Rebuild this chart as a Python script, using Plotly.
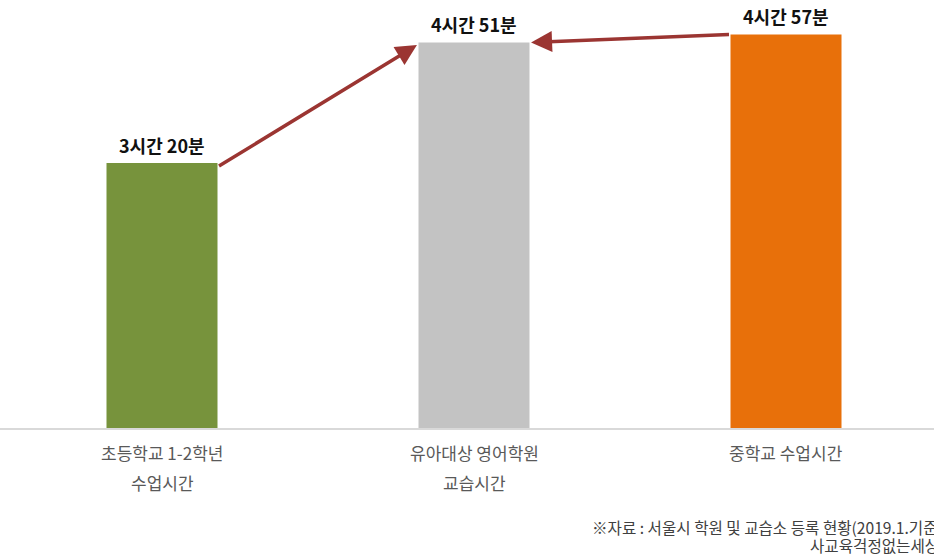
import plotly.graph_objects as go

line1 = ["초등학교 1-2학년", "유아대상 영어학원", "중학교 수업시간"]
line2 = ["수업시간", "교습시간", ""]
minutes = [200, 291, 297]
value_labels = ["3시간 20분", "4시간 51분", "4시간 57분"]
colors = ["#77933C", "#C3C3C3", "#E8700A"]
source_line1 = "※자료 : 서울시 학원 및 교습소 등록 현황(2019.1.기준)"
source_line2 = "사교육걱정없는세상"

FONT = "Noto Sans CJK KR"
W = 111 / 312  # bar width in category units

fig = go.Figure()
fig.add_trace(go.Bar(
    x=[0, 1, 2], y=minutes, width=W,
    marker=dict(color=colors, line=dict(width=0)),
    hoverinfo="skip",
))

ann = []
for i, (v, lab) in enumerate(zip(minutes, value_labels)):
    ann.append(dict(x=i, y=v, xref="x", yref="y", text=f"<b>{lab}</b>",
                    showarrow=False, yanchor="middle", yshift=18,
                    font=dict(family=FONT, size=18, color="#111111")))
for i, (a, b) in enumerate(zip(line1, line2)):
    ann.append(dict(x=i, y=0, xref="x", yref="paper", text=a, showarrow=False,
                    yanchor="middle", yshift=-24,
                    font=dict(family=FONT, size=17, color="#595959")))
    if b:
        ann.append(dict(x=i, y=0, xref="x", yref="paper", text=b, showarrow=False,
                        yanchor="middle", yshift=-54,
                        font=dict(family=FONT, size=17, color="#595959")))

arrow_col = "#9B3532"
# arrow 1: bar1 top-right -> bar2 top-left
ann.append(dict(x=1 - W / 2 - 0.005, y=minutes[1] - 2, xref="x", yref="y",
                ax=W / 2, ay=minutes[0] - 3, axref="x", ayref="y",
                showarrow=True, arrowhead=2, arrowsize=1.2, arrowwidth=3.5,
                arrowcolor=arrow_col, text=""))
# arrow 2: bar3 top-left -> bar2 top-right
ann.append(dict(x=1 + W / 2 + 0.005, y=minutes[1], xref="x", yref="y",
                ax=2 - W / 2, ay=minutes[2], axref="x", ayref="y",
                showarrow=True, arrowhead=2, arrowsize=1.2, arrowwidth=3.5,
                arrowcolor=arrow_col, text=""))

ann.append(dict(x=590 / 934, y=0, xref="paper", yref="paper",
                text=source_line1, yshift=-99,
                showarrow=False, xanchor="left", yanchor="middle",
                font=dict(family=FONT, size=15.6, color="#404040")))
ann.append(dict(x=808 / 934, y=0, xref="paper", yref="paper",
                text=source_line2, yshift=-117,
                showarrow=False, xanchor="left", yanchor="middle",
                font=dict(family=FONT, size=15.6, color="#404040")))

x0 = -162 / 312
fig.update_layout(
    width=934, height=555,
    margin=dict(l=0, r=0, t=0, b=127),
    paper_bgcolor="white", plot_bgcolor="white",
    showlegend=False,
    annotations=ann,
    xaxis=dict(range=[x0, x0 + 934 / 312], showticklabels=False, showgrid=False,
               zeroline=False, showline=True, linecolor="#D9D9D9", linewidth=1.5,
               ticks=""),
    yaxis=dict(range=[0, 323], visible=False, showgrid=False, zeroline=False),
)

fig.write_html("out.html", config={"displayModeBar": False},
               post_script="document.body.style.margin='0';document.body.style.overflow='hidden';")
